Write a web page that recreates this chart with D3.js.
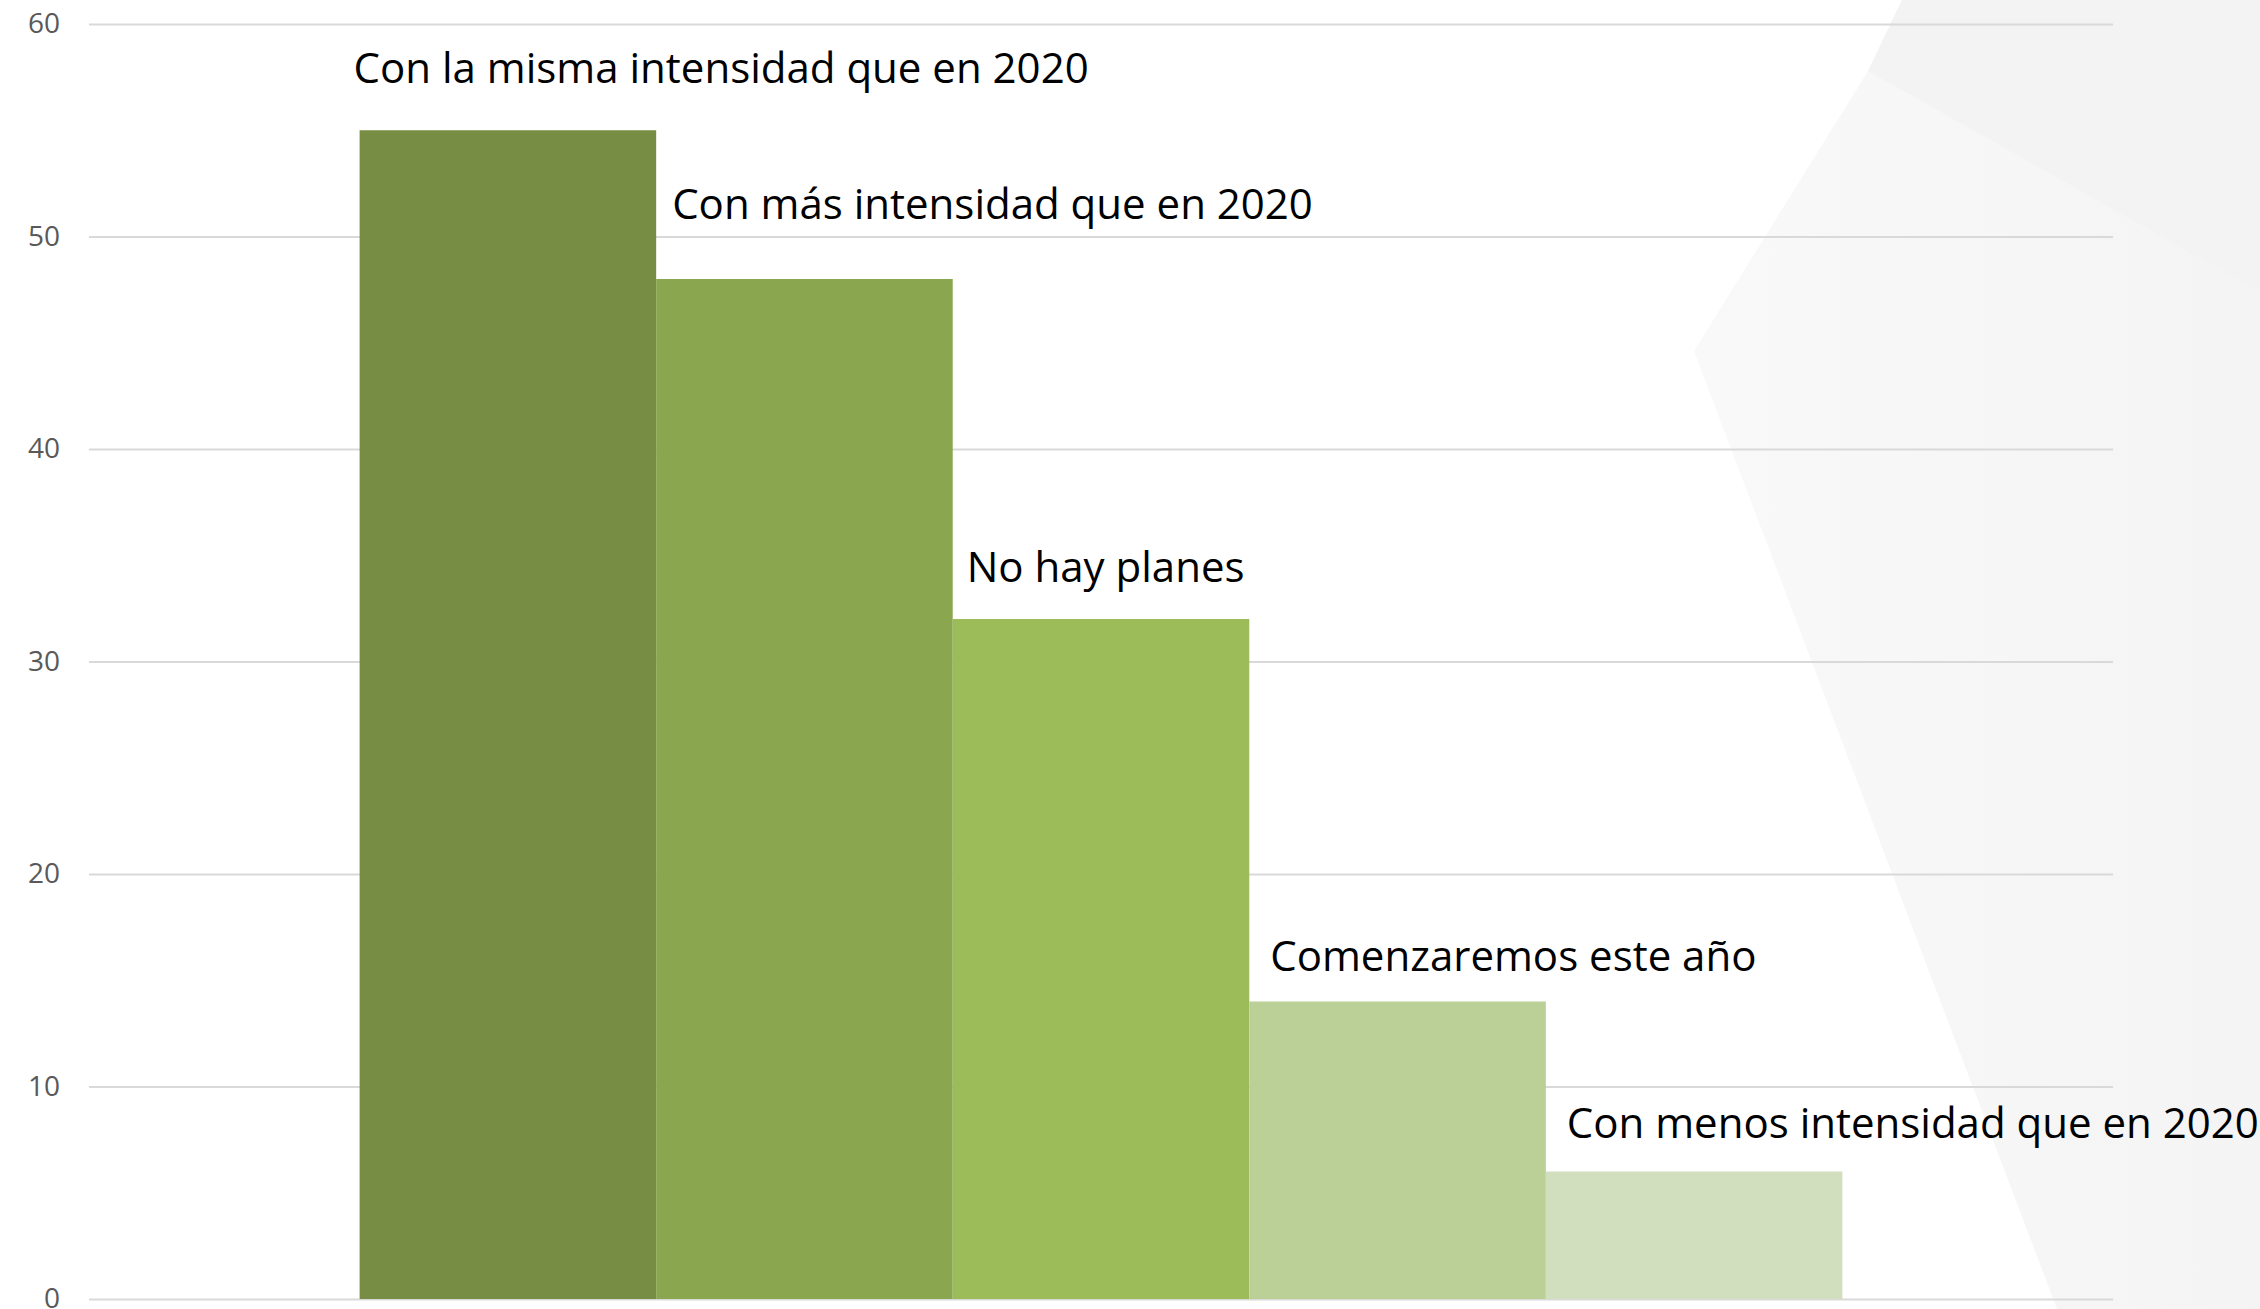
<html>
<head>
  <title>Planes 2021</title>
  <script src="https://d3js.org/d3.v7.min.js"></script>
  <meta http-equiv="content-type" content="text/html;charset=UTF-8">
  <style>
    body { margin: 0; background: #fff; }
    #chart { display: block; }
    .tick text { font-family: "Open Sans", sans-serif; }
  </style>
</head>
<body>
  <svg id="chart"></svg>
  <script>
    // data
    var series = ["Con la misma intensidad que en 2020", "Con más intensidad que en 2020", "No hay planes", "Comenzaremos este año", "Con menos intensidad que en 2020"];
    var values = [55, 48, 32, 14, 6];
    var colors = ["#768d43", "#8aa64f", "#9cbc59", "#bad097", "#d1dfbe"];
    var yTicks = [0, 10, 20, 30, 40, 50, 60];

    // label placement (moved by hand in the original)
    var labelDx = [-6, 16, 14, 21, 21];
    var labelDy = [-47, -60, -37, -31, -34];

    var width = 2260, height = 1309;
    var margin = {top: 24, right: 147, bottom: 10, left: 89};

    var svg = d3.select('#chart')
      .attr('width', width)
      .attr('height', height);

    // faint slide background shapes on the right
    var grad = svg.append('defs').append('linearGradient')
      .attr('id', 'bgfade')
      .attr('x1', 0).attr('x2', 1).attr('y1', 0).attr('y2', 0);
    grad.append('stop').attr('offset', 0).attr('stop-color', '#f9f9f9');
    grad.append('stop').attr('offset', 1).attr('stop-color', '#f4f4f4');
    svg.append('polygon')
      .attr('points', '1902,0 1868,71 1694,351 2057,1309 2260,1309 2260,0')
      .attr('fill', 'url(#bgfade)');
    svg.append('polygon')
      .attr('points', '1902,0 1868,71 2260,292 2260,0')
      .attr('fill', '#f3f3f3');

    var y = d3.scaleLinear()
      .domain([0, 60])
      .range([height - margin.bottom, margin.top]);

    // one category group, five series side by side
    var x0 = d3.scaleBand()
      .domain(["2021"])
      .range([margin.left, width - margin.right])
      .paddingOuter(0.1825);
    var x1 = d3.scaleBand()
      .domain(series)
      .range([x0("2021"), x0("2021") + x0.bandwidth()]);

    var yAxis = d3.axisLeft(y)
      .tickValues(yTicks)
      .tickSize(-(width - margin.left - margin.right))
      .tickPadding(29);
    var ga = svg.append('g')
      .attr('transform', 'translate(' + margin.left + ',0)')
      .call(yAxis);
    ga.select('.domain').remove();
    ga.selectAll('.tick line')
      .attr('stroke', '#d9d9d9')
      .attr('stroke-width', 2);
    ga.selectAll('.tick text')
      .attr('fill', '#595959')
      .attr('font-size', 28);

    var data = series.map((s, i) => ({name: s, value: values[i], color: colors[i], dx: labelDx[i], dy: labelDy[i]}));

    svg.append('g').selectAll('rect')
      .data(data)
      .enter()
      .append('rect')
      .attr('x', d => x1(d.name))
      .attr('y', d => y(d.value))
      .attr('width', x1.bandwidth())
      .attr('height', d => y(0) - y(d.value))
      .attr('fill', d => d.color);

    svg.append('g').selectAll('text')
      .data(data)
      .enter()
      .append('text')
      .attr('x', d => x1(d.name) + d.dx)
      .attr('y', d => y(d.value) + d.dy)
      .attr('font-family', '"Open Sans", sans-serif')
      .attr('font-size', 42)
      .attr('fill', '#000')
      .text(d => d.name);
  </script>
</body>
</html>
